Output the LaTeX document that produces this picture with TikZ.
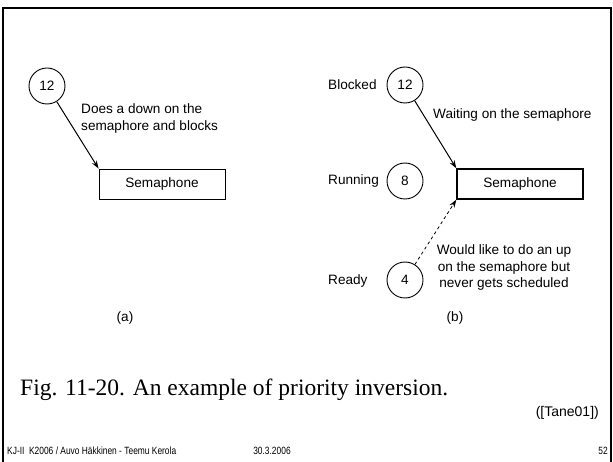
\documentclass[tikz,border=0pt]{standalone}
\usepackage{fontspec}
\setmainfont{Liberation Sans}
\newfontfamily\capfont{Liberation Serif}
\newfontfamily\footfont[FakeStretch=0.8]{Liberation Sans}
\usepackage{tikz}
\usetikzlibrary{arrows.meta, positioning, calc}

\begin{document}
\begin{tikzpicture}[x=1pt,y=-1pt,
  proc/.style={circle,draw,line width=0.9pt,minimum size=36pt,inner sep=0pt,
    font=\fontsize{13.6pt}{16pt}\selectfont},
  semabox/.style={draw,minimum width=126pt,minimum height=30pt,inner sep=0pt,
    font=\fontsize{13.6pt}{16pt}\selectfont},
  note/.style={inner sep=0pt,font=\fontsize{13.6pt}{16.5pt}\selectfont},
  foot/.style={inner sep=0pt,font=\footfont\fontsize{10.5pt}{13pt}\selectfont},
  arr/.style={-{Stealth[length=8pt,width=5.5pt]},line width=1pt}]
  \useasboundingbox (0,0) rectangle (613,462);
  % Slide frame
  \draw[line width=2pt] (3,462) -- (3,8) -- (611,8) -- (611,462);

  % Part (a)
  \node[proc] (p12a) at (47,86) {12};
  \node[semabox,line width=0.9pt] (semaA) at (162,184) {Semaphone};
  \draw[arr] (p12a) -- (semaA.north west);
  \node[note,anchor=west,align=left] (downA) at (81,118.5)
    {Does a down on the\\semaphore and blocks};
  \node[note] (labA) at (125,318) {(a)};

  % Part (b)
  \node[proc] (p12b) at (405,85) {12};
  \node[proc] (p8) at (405,181) {8};
  \node[proc] (p4) at (405,280) {4};
  \node[note,anchor=west] (blocked) at (328,85) {Blocked};
  \node[note,anchor=west] (running) at (328,181) {Running};
  \node[note,anchor=west] (ready) at (328,281) {Ready};
  \node[semabox,line width=1.4pt] (semaB) at (520,184) {Semaphone};
  \draw[arr] (p12b) -- (semaB.north west);
  \draw[arr,dashed,line width=0.8pt] (p4) -- (semaB.south west);
  \node[note,anchor=west] (waiting) at (433,115) {Waiting on the semaphore};
  \node[note,align=center] (wouldup) at (504,267.5)
    {Would like to do an up\\on the semaphore but\\never gets scheduled};
  \node[note] (labB) at (455,318) {(b)};

  % Caption and footer
  \node[inner sep=0pt,anchor=west,font=\capfont\fontsize{23.5pt}{26pt}\selectfont]
    (caption) at (20,390) {Fig. 11-20. An example of priority inversion.};
  \node[inner sep=0pt,anchor=east,font=\fontsize{14pt}{17pt}\selectfont]
    (source) at (599,413) {([Tane01])};
  \node[foot,anchor=west] (authors) at (7,451)
    {KJ-II\ \ K2006 / Auvo Häkkinen - Teemu Kerola};
  \node[foot] (date) at (272,451) {30.3.2006};
  \node[foot,anchor=east] (page) at (608,451) {52};
\end{tikzpicture}
\end{document}
